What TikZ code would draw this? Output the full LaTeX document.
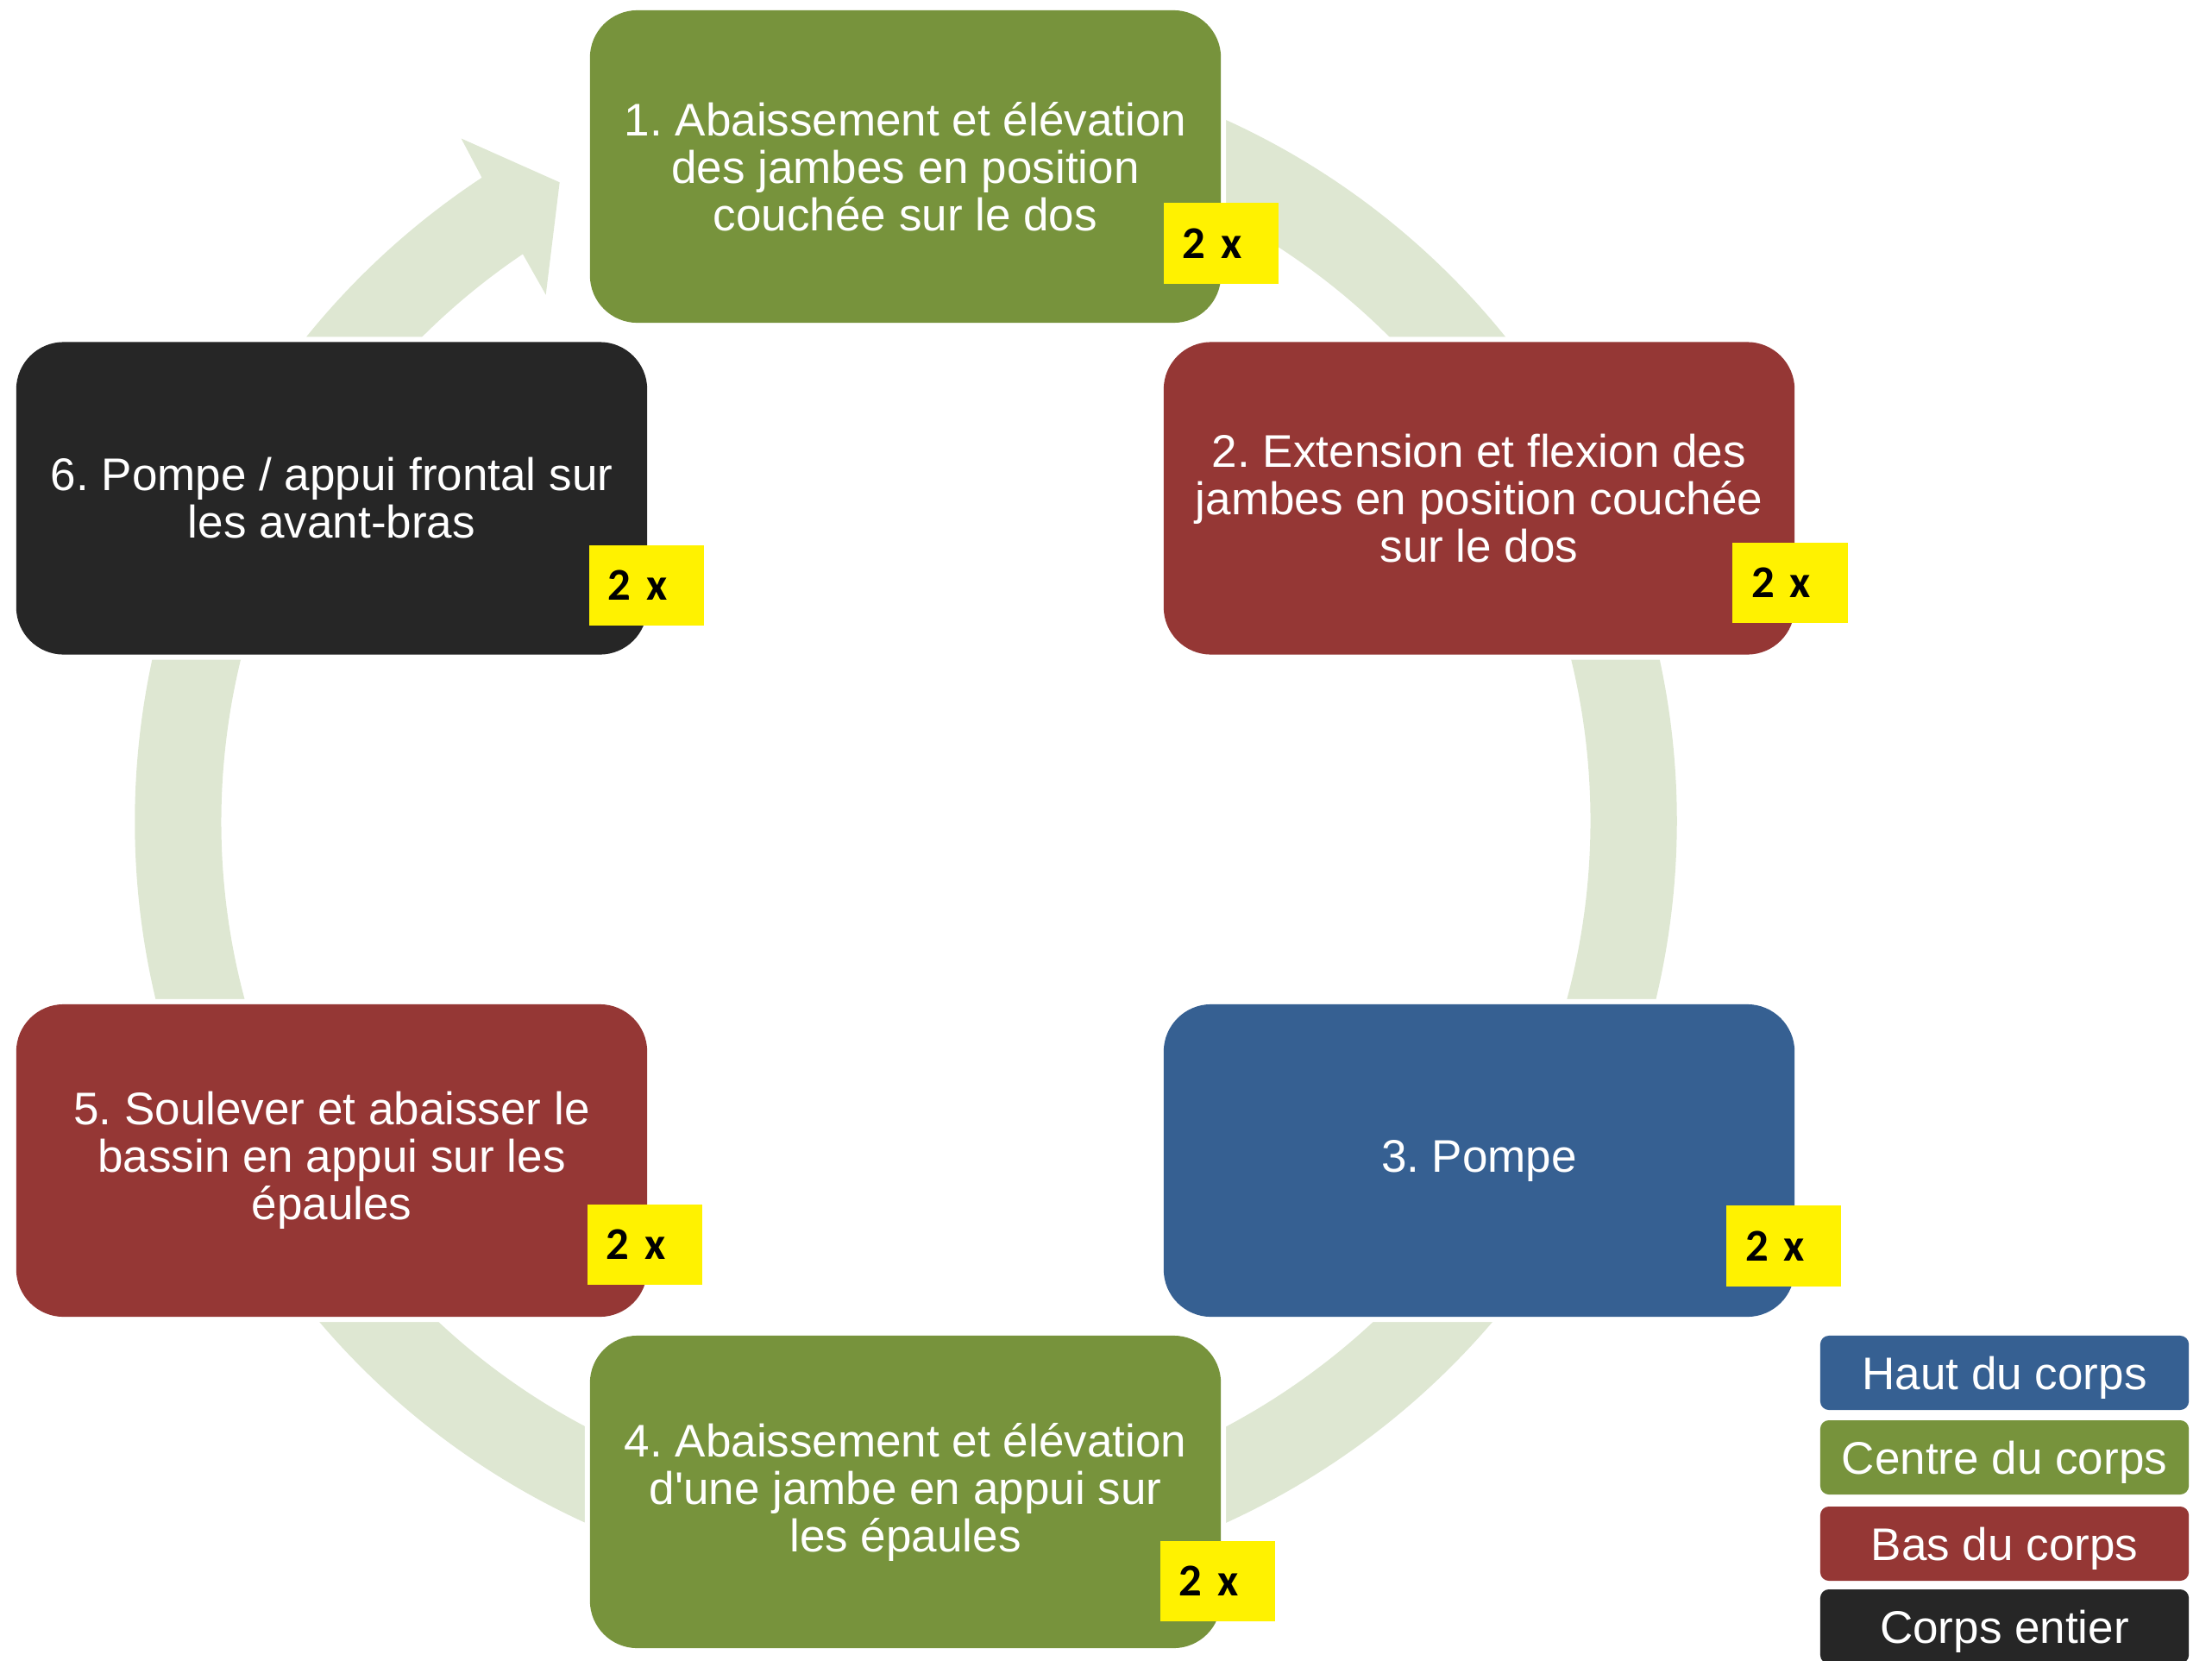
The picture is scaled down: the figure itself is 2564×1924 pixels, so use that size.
\documentclass[tikz,border=0pt]{standalone}
\usepackage{fontspec}
\setmainfont{Liberation Sans}[Ligatures=TeXOff]
\newfontfamily\badgefont{Carlito}
\definecolor{cgreen}{RGB}{119,147,60}
\definecolor{cred}{RGB}{149,55,53}
\definecolor{cblue}{RGB}{54,96,146}
\definecolor{cblack}{RGB}{38,38,38}
\definecolor{cring}{RGB}{222,231,210}
\frenchspacing
\begin{document}
\begin{tikzpicture}[x=0.01cm,y=-0.01cm,
  stepbox/.style={rectangle, rounded corners=0.55cm, minimum width=7.31cm, minimum height=3.62cm,
    inner sep=0pt, text=white, align=center,
    font=\fontsize{15.08pt}{15.65pt}\selectfont,
    preaction={draw=white, line width=0.12cm}},
  badge/.style={rectangle, fill=yellow, minimum height=0.93cm, text width=0.89cm,
    inner xsep=0.22cm, inner ysep=0pt, align=left,
    font=\badgefont\bfseries\fontsize{15pt}{16pt}\selectfont},
  legendbox/.style={rectangle, rounded corners=0.1cm, minimum width=4.27cm, minimum height=0.86cm,
    inner sep=0pt, text=white, font=\fontsize{15.08pt}{16pt}\selectfont,
    text height=0.38cm, text depth=0pt}]
\useasboundingbox (0,0) rectangle (2564,1924);

% circular arrow ring
\begin{scope}[shift={(1050,952)}]
\fill[cring] (75:8.93cm) arc[start angle=75, end angle=-236.63, radius=8.93cm]
  -- (-236.93:9.44cm) -- (-241.55:8.42cm) -- (-235.64:7.39cm) -- (-235.97:7.93cm)
  arc[start angle=-235.97, end angle=75, radius=7.93cm] -- cycle;
\end{scope}

% steps
\node[stepbox, fill=cgreen] (b1) at (1049.5,193) {1. Abaissement et élévation\\des jambes en position\\couchée sur le dos};
\node[stepbox, fill=cred] (b2) at (1714.5,577.5) {2. Extension et flexion des\\jambes en position couchée\\sur le dos};
\node[stepbox, fill=cblue] (b3) at (1714.5,1345) {3. Pompe};
\node[stepbox, fill=cgreen] (b4) at (1049.5,1729) {4. Abaissement et élévation\\d'une jambe en appui sur\\les épaules};
\node[stepbox, fill=cred] (b5) at (384.5,1345) {5. Soulever et abaisser le\\bassin en appui sur les\\épaules};
\node[stepbox, fill=cblack] (b6) at (384.5,577.5) {6. Pompe / appui frontal sur\\les avant-bras};

% repetition badges
\node[badge] (x1) at (1415.5,282) {2 x};
\node[badge] (x2) at (2075,675.5) {2 x};
\node[badge] (x3) at (2067.5,1444) {2 x};
\node[badge] (x4) at (1411.5,1832.5) {2 x};
\node[badge] (x5) at (747.5,1442.5) {2 x};
\node[badge] (x6) at (749.5,678.5) {2 x};

% legend
\node[legendbox, fill=cblue] (l1) at (2323.5,1591) {Haut du corps};
\node[legendbox, fill=cgreen] (l2) at (2323.5,1689) {Centre du corps};
\node[legendbox, fill=cred] (l3) at (2323.5,1789) {Bas du corps};
\node[legendbox, fill=cblack] (l4) at (2323.5,1885) {Corps entier};
\end{tikzpicture}
\end{document}
